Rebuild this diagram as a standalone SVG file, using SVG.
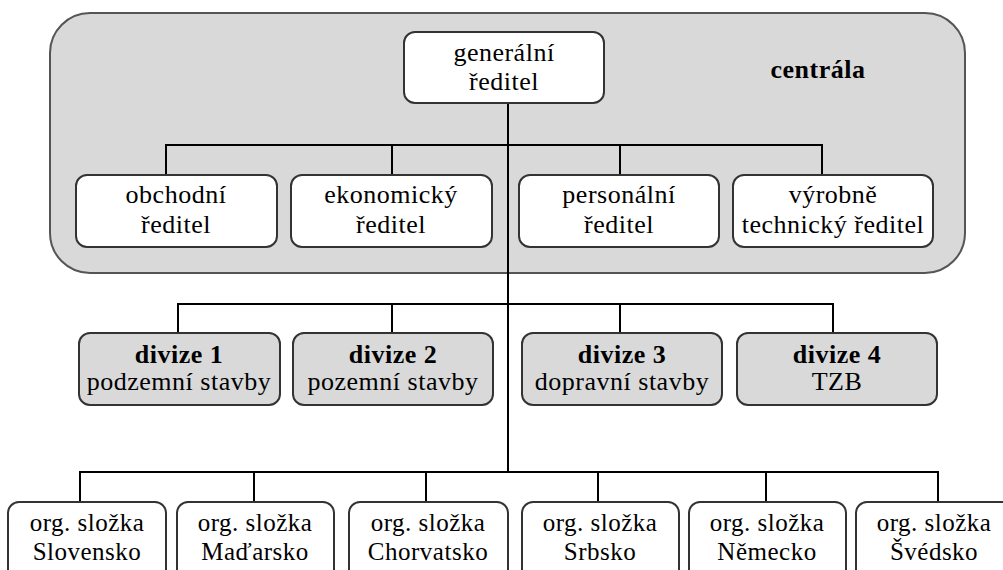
<svg xmlns="http://www.w3.org/2000/svg" width="1003" height="570" viewBox="0 0 1003 570">
  <style>
    .bg { fill: #ffffff; }
    .hq { fill: #d9d9d9; stroke: #555555; stroke-width: 2; }
    .box { fill: #ffffff; stroke: #333333; stroke-width: 2; }
    .div { fill: #d9d9d9; stroke: #333333; stroke-width: 2; }
    .wire { fill: none; stroke: #000000; stroke-width: 2; }
    .t { font-family: 'Liberation Serif', 'Times New Roman', serif; font-size: 26px; letter-spacing: 0.5px; fill: #000000; text-anchor: middle; }
    .s { font-size: 25px; }
    .b { font-weight: bold; }
  </style>
  <rect class="bg" x="0" y="0" width="1003" height="570"/>

  <!-- headquarters container -->
  <g id="centrala">
    <rect class="hq" x="50" y="13" width="915" height="260" rx="40" ry="40"/>
    <text class="t b" x="818" y="78">centrála</text>
  </g>

  <!-- connectors -->
  <g id="connectors">
    <line class="wire" x1="508" y1="103" x2="508" y2="472"/>
    <polyline class="wire" points="166,175 166,145 822,145 822,175"/>
    <line class="wire" x1="392" y1="145" x2="392" y2="175"/>
    <line class="wire" x1="620" y1="145" x2="620" y2="175"/>
    <polyline class="wire" points="178,333 178,304 833,304 833,333"/>
    <line class="wire" x1="392" y1="304" x2="392" y2="333"/>
    <line class="wire" x1="620" y1="304" x2="620" y2="333"/>
    <polyline class="wire" points="80,502 80,472 938,472 938,502"/>
    <line class="wire" x1="254" y1="472" x2="254" y2="502"/>
    <line class="wire" x1="426" y1="472" x2="426" y2="502"/>
    <line class="wire" x1="598" y1="472" x2="598" y2="502"/>
    <line class="wire" x1="766" y1="472" x2="766" y2="502"/>
  </g>

  <!-- top management -->
  <g id="generalni-reditel">
    <rect class="box" x="404" y="32" width="200" height="71" rx="11"/>
    <text class="t" x="504" y="61">generální</text>
    <text class="t" x="504" y="90">ředitel</text>
  </g>
  <g id="obchodni-reditel">
    <rect class="box" x="76" y="175" width="201" height="72" rx="11"/>
    <text class="t" x="176" y="203">obchodní</text>
    <text class="t" x="176" y="233">ředitel</text>
  </g>
  <g id="ekonomicky-reditel">
    <rect class="box" x="291" y="175" width="201" height="72" rx="11"/>
    <text class="t" x="391" y="203">ekonomický</text>
    <text class="t" x="391" y="233">ředitel</text>
  </g>
  <g id="personalni-reditel">
    <rect class="box" x="519" y="175" width="200" height="72" rx="11"/>
    <text class="t" x="619" y="203">personální</text>
    <text class="t" x="619" y="233">ředitel</text>
  </g>
  <g id="vyrobne-technicky-reditel">
    <rect class="box" x="733" y="175" width="200" height="72" rx="11"/>
    <text class="t" x="833" y="203">výrobně</text>
    <text class="t" x="833" y="233">technický ředitel</text>
  </g>

  <!-- divisions -->
  <g id="divize-1">
    <rect class="div" x="79" y="333" width="201" height="72" rx="11"/>
    <text class="t b" x="179" y="363">divize 1</text>
    <text class="t" x="179" y="390">podzemní stavby</text>
  </g>
  <g id="divize-2">
    <rect class="div" x="293" y="333" width="200" height="72" rx="11"/>
    <text class="t b" x="393" y="363">divize 2</text>
    <text class="t" x="393" y="390">pozemní stavby</text>
  </g>
  <g id="divize-3">
    <rect class="div" x="522" y="333" width="200" height="72" rx="11"/>
    <text class="t b" x="622" y="363">divize 3</text>
    <text class="t" x="622" y="390">dopravní stavby</text>
  </g>
  <g id="divize-4">
    <rect class="div" x="737" y="333" width="200" height="72" rx="11"/>
    <text class="t b" x="837" y="363">divize 4</text>
    <text class="t" x="837" y="390">TZB</text>
  </g>

  <!-- branch offices -->
  <g id="slozka-slovensko">
    <rect class="box" x="8" y="502" width="158" height="90" rx="11"/>
    <text class="t s" x="87" y="531">org. složka</text>
    <text class="t s" x="87" y="560">Slovensko</text>
  </g>
  <g id="slozka-madarsko">
    <rect class="box" x="177" y="502" width="157" height="90" rx="11"/>
    <text class="t s" x="255" y="531">org. složka</text>
    <text class="t s" x="255" y="560">Maďarsko</text>
  </g>
  <g id="slozka-chorvatsko">
    <rect class="box" x="349" y="502" width="159" height="90" rx="11"/>
    <text class="t s" x="428" y="531">org. složka</text>
    <text class="t s" x="428" y="560">Chorvatsko</text>
  </g>
  <g id="slozka-srbsko">
    <rect class="box" x="522" y="502" width="157" height="90" rx="11"/>
    <text class="t s" x="600" y="531">org. složka</text>
    <text class="t s" x="600" y="560">Srbsko</text>
  </g>
  <g id="slozka-nemecko">
    <rect class="box" x="689" y="502" width="157" height="90" rx="11"/>
    <text class="t s" x="767" y="531">org. složka</text>
    <text class="t s" x="767" y="560">Německo</text>
  </g>
  <g id="slozka-svedsko">
    <rect class="box" x="856" y="502" width="158" height="90" rx="11"/>
    <text class="t s" x="934" y="531">org. složka</text>
    <text class="t s" x="934" y="560">Švédsko</text>
  </g>
</svg>
